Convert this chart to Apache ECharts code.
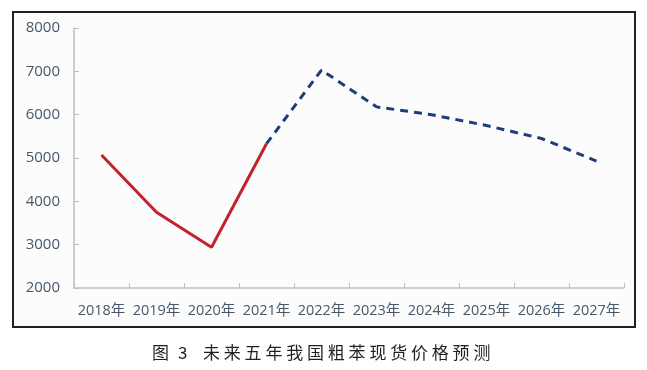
<!DOCTYPE html>
<html>
<head>
<meta charset="utf-8">
<script src="https://cdn.jsdelivr.net/npm/echarts@6/dist/echarts.min.js"></script>
<style>
html,body{margin:0;padding:0;background:#fff;}
#chart{width:647px;height:370px;}
</style>
</head>
<body>
<div id="chart"></div>
<script>
var categories = ['2018年','2019年','2020年','2021年','2022年','2023年','2024年','2025年','2026年','2027年'];
var actualValues = [5070, 3750, 2940, 5330, null, null, null, null, null, null];
var forecastValues = [null, null, null, 5330, 7030, 6180, 6000, 5750, 5450, 4930];
var yTicks = [2000, 3000, 4000, 5000, 6000, 7000, 8000];
var captionText = '图3 未来五年我国粗苯现货价格预测';

var chart = echarts.init(document.getElementById('chart'), null, {renderer: 'canvas'});
var labelFont = '"Open Sans", "Noto Sans CJK SC", sans-serif';
var labelColor = '#475869';

// caption characters laid out with wide letter spacing
var capChars = Array.from(captionText.replace(' ', ''));
var capGraphics = [];
var cx = 152;
capChars.forEach(function (ch, i) {
  capGraphics.push({
    type: 'text',
    left: cx, top: 344,
    style: {text: ch, fill: '#231f20', font: '17px "Noto Sans CJK SC", sans-serif'}
  });
  if (ch === '图') cx += 26;
  else if (ch === '3') cx += 25;
  else cx += 20.8;
});

chart.setOption({
  backgroundColor: '#ffffff',
  animation: false,
  grid: {left: 74, right: 23, top: 28, bottom: 82, containLabel: false},
  xAxis: {
    type: 'category',
    data: categories,
    boundaryGap: true,
    axisLine: {lineStyle: {color: '#bfbfbf', width: 1.5}},
    axisTick: {show: true, inside: true, length: 5, lineStyle: {color: '#bfbfbf'}},
    axisLabel: {color: labelColor, fontSize: 14.5, fontFamily: labelFont, margin: 16, interval: 0}
  },
  yAxis: {
    type: 'value',
    min: yTicks[0], max: yTicks[yTicks.length - 1], interval: 1000,
    axisLine: {show: true, lineStyle: {color: '#bfbfbf', width: 1.5}},
    axisTick: {show: true, inside: true, length: 5, lineStyle: {color: '#bfbfbf'}},
    splitLine: {show: false},
    axisLabel: {color: labelColor, fontSize: 15, fontFamily: labelFont, margin: 14,
      formatter: function (v) { return String(v); }}
  },
  graphic: [
    {type: 'rect', shape: {x: 13, y: 12, width: 622, height: 315}, z: -10,
     style: {fill: '#fcfcfc', stroke: '#231f20', lineWidth: 2}}
  ].concat(capGraphics),
  series: [
    {
      name: '实际', type: 'line', data: actualValues, symbol: 'none',
      lineStyle: {color: '#c0232b', width: 3}, z: 3
    },
    {
      name: '预测', type: 'line', data: forecastValues, symbol: 'none',
      lineStyle: {color: '#1f3d7c', width: 3, type: [8, 6]}, z: 2
    }
  ]
});
</script>
</body>
</html>
